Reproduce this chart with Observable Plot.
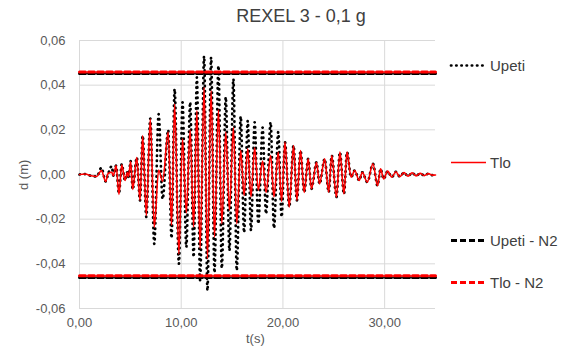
<!DOCTYPE html>
<html>
<head>
<meta charset="utf-8">
<script src="https://cdn.jsdelivr.net/npm/d3@7"></script>
<script src="https://cdn.jsdelivr.net/npm/@observablehq/plot@0.6"></script>
<style>
  html, body { margin: 0; padding: 0; background: #fff; }
  #wrap { position: relative; width: 582px; height: 349px; font-family: "Liberation Sans", Arial, sans-serif; color: #595959; }
  #title { position: absolute; top: 6px; left: 0; width: 582px; text-align: center; font-size: 18px; color: #404040; }
  #title span { position: relative; left: 10px; }
  .axlab { position: absolute; font-size: 13px; color: #595959; }
  .leg { position: absolute; left: 448px; font-size: 15px; color: #404040; display: flex; align-items: center; }
  .leg svg { margin-right: 2px; }
</style>
</head>
<body>
<div id="wrap">
  <div id="chart"></div>
  <div id="title"><span>REXEL 3 - 0,1 g</span></div>
  <div class="axlab" style="left:246px; top:331px;">t(s)</div>
  <div class="axlab" style="left:8px; top:166px; transform: rotate(-90deg); transform-origin: 16px 8px;">d (m)</div>
  <div id="legend"></div>
</div>
<script>
// ---- data (time of each extreme, s; displacement, m) ----
const tPeaks = [0, 0.56, 1.14, 1.7, 2.15, 2.58, 2.8, 3.17, 3.33, 3.6, 3.88, 4.15, 4.48, 4.7, 4.82, 5.03, 5.23, 5.63, 5.95, 6.21,
  6.57, 6.96, 7.35, 7.78, 8.17, 8.72, 9.05, 9.35, 9.77, 10.13, 10.5, 10.88, 11.22, 11.54, 11.86, 12.25, 12.58, 12.94, 13.27, 13.66,
  13.99, 14.38, 14.74, 15.13, 15.46, 15.85, 16.18, 16.54, 16.86, 17.22, 17.58, 18.0, 18.34, 18.79, 19.12, 19.54, 19.87, 20.2, 20.62, 21.04,
  21.37, 21.73, 22.09, 22.48, 22.81, 23.3, 23.6, 24.1, 24.5, 24.8, 25.26, 25.6, 26.0, 26.3, 26.7, 27.06, 27.5, 27.8, 28.3, 28.85,
  29.3, 29.6, 29.9, 30.3, 30.7, 31.1, 31.5, 31.9, 32.3, 32.7, 33.1, 33.5, 33.9, 34.3, 34.7, 35];
const upeti = [0, 0.0002, -0.0006, -0.0009, 0.0030, -0.0031, 0.0000, 0.0037, -0.0005, 0.0040, -0.0085, 0.0046, -0.0027, 0.0010, -0.0010, 0.0060, -0.0067, 0.0076, -0.0116, 0.0174,
  -0.019, 0.025, -0.031, 0.027, -0.011, 0.020, -0.0285, 0.0383, -0.040, 0.0323, -0.0325, 0.0323, -0.037, 0.0435, -0.0474, 0.053, -0.052, 0.0524, -0.044, 0.0487,
  -0.042, 0.0346, -0.034, 0.0428, -0.043, 0.026, -0.026, 0.024, -0.025, 0.0234, -0.022, 0.021, -0.0176, 0.0234, -0.024, 0.019, -0.019, 0.0145, -0.0146, 0.013,
  -0.0116, 0.0107, -0.008, 0.007, -0.0064, 0.0055, -0.0042, 0.007, -0.0079, 0.0085, -0.0101, 0.010, -0.0087, 0.010, -0.0012, 0.0018, -0.0027, 0.0010, -0.0034, 0.0048,
  -0.005, 0.0025, -0.002, 0.0015, -0.0012, 0.0012, -0.001, 0.0009, -0.0008, 0.0008, -0.0006, 0.0005, -0.0005, 0.0004, -0.0003, -0.0002];
const tlo = [0, 0.0002, -0.0006, -0.0009, 0.0018, -0.0031, 0.0004, 0.0010, -0.0005, 0.0040, -0.0089, 0.0043, -0.0027, 0.0010, -0.0010, 0.0058, -0.0067, 0.0076, -0.0116, 0.0174,
  -0.0183, 0.0249, -0.0236, 0.002, -0.003, 0.019, -0.0228, 0.0316, -0.0356, 0.016, -0.0172, 0.020, -0.0235, 0.0286, -0.0332, 0.039, -0.0377, 0.0375, -0.028, 0.029,
  -0.022, 0.019, -0.016, 0.021, -0.022, 0.0107, -0.0094, 0.0115, -0.010, 0.012, -0.007, 0.006, -0.008, 0.0085, -0.010, 0.010, -0.012, 0.0145, -0.0146, 0.013,
  -0.0116, 0.0107, -0.008, 0.007, -0.0064, 0.0055, -0.0042, 0.007, -0.0079, 0.0085, -0.0101, 0.010, -0.0087, 0.010, -0.0012, 0.0018, -0.0027, 0.0010, -0.0034, 0.0048,
  -0.005, 0.0025, -0.002, 0.0015, -0.0012, 0.0012, -0.001, 0.0009, -0.0008, 0.0008, -0.0006, 0.0005, -0.0005, 0.0004, -0.0003, -0.0002];
const n2Span = [0, 35];
const upetiN2 = [0.0452, -0.0461];
const tloN2 = [0.0459, -0.0453];
const xTicks = [0, 10, 20, 30];
const yTicks = [-0.06, -0.04, -0.02, 0, 0.02, 0.04, 0.06];
const seriesNames = ["Upeti", "Tlo", "Upeti - N2", "Tlo - N2"];

const fmt = d => d.toFixed(2).replace(".", ",");
const rowsU = tPeaks.map((t, i) => ({t, d: upeti[i]}));
const rowsT = tPeaks.map((t, i) => ({t, d: tlo[i]}));
const n2Rows = (vals) => vals.flatMap((v, k) => n2Span.map(t => ({t, d: v, k})));

const DOT = "0.4 4.8";
const chart = Plot.plot({
  width: 582, height: 349,
  marginLeft: 79, marginRight: 147, marginTop: 40, marginBottom: 41,
  style: {fontFamily: "Liberation Sans, Arial, sans-serif", fontSize: "13px", color: "#595959", background: "#fff"},
  x: {domain: [0, 35]},
  y: {domain: [-0.06, 0.06]},
  marks: [
    Plot.gridX(xTicks, {stroke: "#d9d9d9", strokeOpacity: 1, strokeWidth: 1}),
    Plot.gridY(yTicks, {stroke: "#d9d9d9", strokeOpacity: 1, strokeWidth: 1}),
    Plot.axisX(xTicks, {tickFormat: fmt, tickSize: 0, tickPadding: 9, label: null, fill: "#595959"}),
    Plot.axisY(yTicks, {tickFormat: fmt, tickSize: 0, tickPadding: 14, label: null, fill: "#595959"}),
    Plot.line(rowsU, {x: "t", y: "d", curve: "monotone-x", stroke: "#000", strokeWidth: 2.7, strokeDasharray: DOT, strokeLinecap: "round"}),
    Plot.line(rowsT, {x: "t", y: "d", curve: "monotone-x", stroke: "#ff0000", strokeWidth: 1.6}),
    Plot.line(n2Rows(upetiN2), {x: "t", y: "d", z: "k", stroke: "#000", strokeWidth: 3, strokeDasharray: "6 3"}),
    Plot.line(n2Rows(tloN2), {x: "t", y: "d", z: "k", stroke: "#ff0000", strokeWidth: 3, strokeDasharray: "6 3"})
  ]
});
document.getElementById("chart").appendChild(chart);

// legend
const legStyles = [
  {stroke: "#000", w: 2.7, dash: DOT, cap: "round", top: 57},
  {stroke: "#ff0000", w: 1.6, dash: null, cap: "butt", top: 154},
  {stroke: "#000", w: 3, dash: "6 3", cap: "butt", top: 232},
  {stroke: "#ff0000", w: 3, dash: "6 3", cap: "butt", top: 274}
];
const leg = document.getElementById("legend");
seriesNames.forEach((name, i) => {
  const s = legStyles[i];
  const div = document.createElement("div");
  div.className = "leg";
  div.style.top = s.top + "px";
  div.innerHTML = `<svg width="40" height="17"><line x1="3" x2="38" y1="8.5" y2="8.5" stroke="${s.stroke}" stroke-width="${s.w}" ${s.dash ? `stroke-dasharray="${s.dash}"` : ""} stroke-linecap="${s.cap}"/></svg><span>${name}</span>`;
  leg.appendChild(div);
});
</script>
</body>
</html>
